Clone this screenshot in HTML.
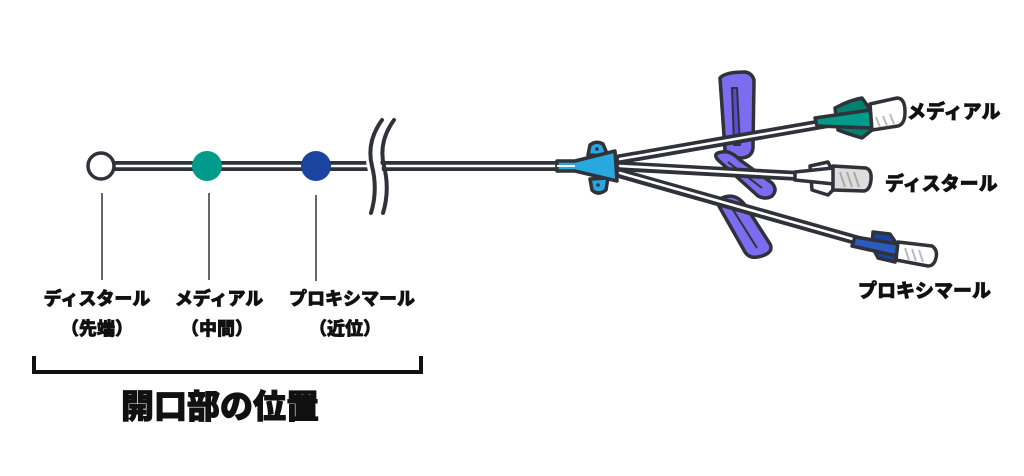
<!DOCTYPE html>
<html><head><meta charset="utf-8"><style>
html,body{margin:0;padding:0;background:#fff;}
svg{display:block}
text{font-family:"Liberation Sans","Noto Sans CJK JP",sans-serif;font-weight:900;fill:#111;stroke:#111;stroke-width:0.7}
</style></head><body>
<svg width="1024" height="476" viewBox="0 0 1024 476" xmlns="http://www.w3.org/2000/svg">
<!-- main tube -->
<line x1="100" y1="166" x2="575" y2="166" stroke="#2f3238" stroke-width="10"/>
<line x1="110" y1="166" x2="575" y2="166" stroke="#fff" stroke-width="2.6"/>
<!-- break marks -->
<path d="M385 118 Q368 140 374 166 Q380 192 372 215" fill="none" stroke="#fff" stroke-width="14"/>
<path d="M382 120 Q366 142 372 166 Q378 190 371 213" fill="none" stroke="#2f3238" stroke-width="4" stroke-linecap="round"/>
<path d="M394 120 Q378 142 384 166 Q390 190 383 213" fill="none" stroke="#2f3238" stroke-width="4" stroke-linecap="round"/>
<!-- dots -->
<circle cx="101" cy="166" r="13" fill="#fff" stroke="#2f3238" stroke-width="3.5"/>
<circle cx="207" cy="166" r="15" fill="#009b8a"/>
<circle cx="316" cy="166" r="15" fill="#1a44a0"/>
<!-- leader lines -->
<line x1="102" y1="193" x2="102" y2="280" stroke="#2f3238" stroke-width="1.5"/>
<line x1="209" y1="193" x2="209" y2="280" stroke="#2f3238" stroke-width="1.5"/>
<line x1="316" y1="195" x2="316" y2="281" stroke="#2f3238" stroke-width="1.5"/>
<!-- labels -->
<g font-size="18" text-anchor="middle">
<text x="97" y="305">ディスタール</text>
<text x="97" y="335">（先端）</text>
<text x="219" y="305">メディアル</text>
<text x="217" y="335">（中間）</text>
<text x="352" y="305">プロキシマール</text>
<text x="345" y="335">（近位）</text>
</g>
<!-- bracket -->
<path d="M34 356 V372 H421 V356" fill="none" stroke="#111" stroke-width="4"/>
<text x="220" y="418" font-size="33" text-anchor="middle" style="stroke-width:1">開口部の位置</text>

<!-- clamps (behind) -->
<g stroke="#2f3238" stroke-width="3.5" fill="#7b6cf0" stroke-linejoin="round">
<path d="M720 78 Q725 72 745 72 Q752 73 754 80 L753 148 Q752 158 740 158 Q726 158 725 150 Z"/>
<path d="M732 88 L737 88 L740 145 L734 145 Z" fill="#5a4bd0" stroke-width="2"/>
<path d="M718 160 Q712 153 722 152 Q730 150 740 160 L772 183 Q778 190 772 196 Q766 200 758 196 Z"/>
<path d="M728 162 L762 188" stroke-width="2"/>
<path d="M722 198 Q716 202 720 208 L745 252 Q750 260 762 256 Q774 252 770 244 L745 205 Q735 192 722 198 Z"/>
<path d="M730 205 L757 248" stroke-width="2"/>
</g>
<!-- branch tubes -->
<g stroke-linecap="round">
<line x1="615" y1="160" x2="845" y2="120" stroke="#2f3238" stroke-width="10"/>
<line x1="620" y1="159" x2="845" y2="120" stroke="#fff" stroke-width="2.6"/>
<line x1="615" y1="166" x2="800" y2="176" stroke="#2f3238" stroke-width="10"/>
<line x1="620" y1="166" x2="800" y2="176" stroke="#fff" stroke-width="2.6"/>
<line x1="615" y1="172" x2="870" y2="244" stroke="#2f3238" stroke-width="10"/>
<line x1="620" y1="173" x2="870" y2="244" stroke="#fff" stroke-width="2.6"/>
</g>
<!-- hub -->
<g stroke="#2f3238" stroke-width="3.5" stroke-linejoin="round">
<path d="M588 155 L590 145 Q596 140 603 144 L608 156 Z" fill="#29a8e0"/>
<path d="M590 179 L608 178 L606 190 Q598 196 592 190 Z" fill="#29a8e0"/>
<path d="M557 161 L575 161 L615 151 L617 181 L575 171 L557 171 Z" fill="#29a8e0"/>
</g>
<line x1="557" y1="166" x2="575" y2="166" stroke="#fff" stroke-width="2"/>
<circle cx="597" cy="149" r="1.8" fill="#2f3238"/><circle cx="598" cy="185" r="1.8" fill="#2f3238"/>

<!-- medial connector -->
<g stroke="#2f3238" stroke-width="3.5" stroke-linejoin="round">
<path d="M835 108 Q850 100 862 98 L872 112 L872 130 L862 138 Q848 134 838 130 Z" fill="#00806f"/>
<path d="M815 118 L870 110 L872 128 L817 126 Z" fill="#009b8a"/>
<path d="M870 104 L897 98 Q905 98 905 112 Q905 124 898 126 L872 130 Z" fill="#fff"/>
</g>
<!-- distal connector -->
<g stroke="#2f3238" stroke-width="3.5" stroke-linejoin="round">
<path d="M810 166 L828 162 L833 172 L833 190 L828 195 L812 190 Z" fill="#fff"/>
<path d="M795 172 L833 168 L834 184 L795 180 Z" fill="#fff"/>
<path d="M833 166 L866 168 Q872 170 871 180 Q870 190 864 191 L833 190 Z" fill="#ddd"/>
</g>
<path d="M840 172 l5 15 M847 172 l5 15 M854 172 l5 15" stroke="#aaa" stroke-width="2"/>
<!-- proximal connector -->
<g stroke="#2f3238" stroke-width="3.5" stroke-linejoin="round">
<path d="M873 232 L890 234 L898 246 L895 262 L878 258 L872 246 Z" fill="#1a44a0"/>
<path d="M855 237 L898 244 L897 256 L852 246 Z" fill="#2b5bc0"/>
<path d="M898 242 L932 246 Q938 250 936 258 Q934 266 928 266 L896 260 Z" fill="#fff"/>
</g>
<path d="M905 248 l4 12 M912 249 l4 12 M919 250 l4 12 M876 117 l4 10 M883 116 l4 10 M890 114 l4 10" stroke="#bbb" stroke-width="2"/>

<g font-size="19">
<text x="907" y="118">メディアル</text>
<text x="885" y="190">ディスタール</text>
<text x="858" y="297">プロキシマール</text>
</g>
</svg>
</body></html>
